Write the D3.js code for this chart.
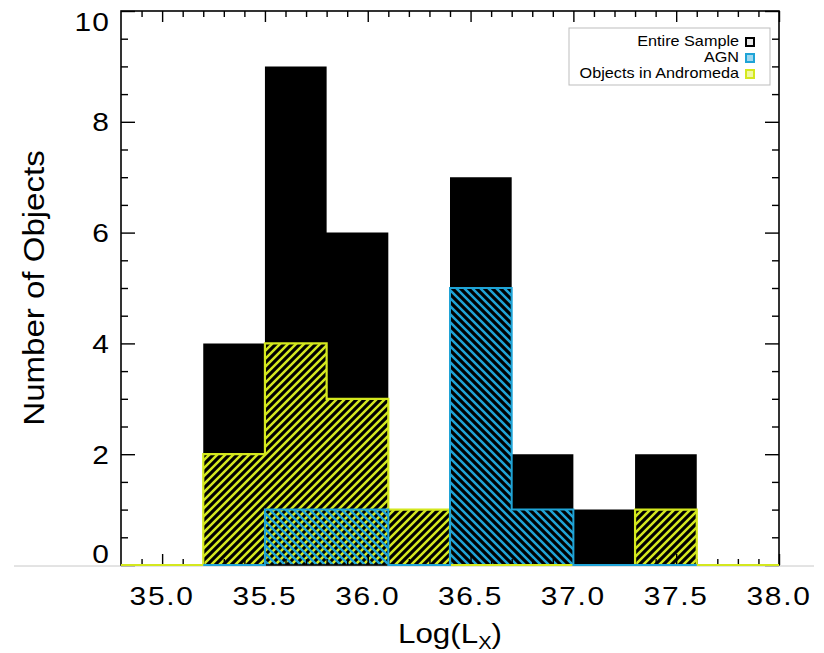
<!DOCTYPE html>
<html><head><meta charset="utf-8">
<script src="https://cdn.jsdelivr.net/npm/d3@7"></script>
<style>
body{margin:0;background:#fff}
text{font-family:"Liberation Sans",Arial,Helvetica,sans-serif;fill:#000;font-weight:400}
</style>
</head><body>
<svg id="c" width="824" height="653"></svg>
<script>
// ---- data ----
const binEdges = [35.2, 35.5, 35.8, 36.1, 36.4, 36.7, 37.0, 37.3, 37.6];
const entireSample = [4, 9, 6, 1, 7, 2, 1, 2];
const agn = [0, 1, 1, 0, 5, 1, 0, 0];
const andromeda = [2, 4, 3, 1, 0, 0, 0, 1];
const xTicks = [35.0, 35.5, 36.0, 36.5, 37.0, 37.5, 38.0];
const yTicks = [0, 2, 4, 6, 8, 10];
const legendLabels = ["Entire Sample", "AGN", "Objects in Andromeda"];
const xDomain = [34.8, 38.0];
const yDomain = [0, 10];

// ---- styles ----
const YELLOW = "#d4e81e", CYAN = "#1fa3d6";
const L = 121, R = 779, T = 11, B = 565;

const svg = d3.select("#c");
const x = d3.scaleLinear().domain(xDomain).range([L, R]);
const y = d3.scaleLinear().domain(yDomain).range([B, T]);

// patterns
const defs = svg.append("defs");
function hatch(id, color, dir) {
  const p = defs.append("pattern").attr("id", id).attr("patternUnits", "userSpaceOnUse")
    .attr("width", 8).attr("height", 8);
  const d = dir > 0 ? "M-2,2 L2,-2 M0,8 L8,0 M6,10 L10,6" : "M-2,6 L2,10 M0,0 L8,8 M6,-2 L10,2";
  p.append("path").attr("d", d).attr("stroke", color).attr("stroke-width", 2.5).attr("fill", "none");
}
hatch("hAnd", YELLOW, 1);
hatch("hAgn", CYAN, -1);

// faint scan line
svg.append("line").attr("x1", 14).attr("x2", 814).attr("y1", B + 1).attr("y2", B + 1)
  .attr("stroke", "#c8c8c8").attr("stroke-width", 1);

function stepData(counts) {
  const pts = counts.map((c, i) => ({ x: binEdges[i], v: c }));
  pts.push({ x: binEdges[binEdges.length - 1], v: counts[counts.length - 1] });
  return pts;
}
const area = d3.area().curve(d3.curveStepAfter).x(d => x(d.x)).y0(y(0)).y1(d => y(d.v));
const line = d3.line().curve(d3.curveStepAfter).x(d => x(d.x)).y(d => y(d.v));

svg.append("path").attr("d", area(stepData(entireSample))).attr("fill", "#000");
svg.append("path").attr("d", area(stepData(andromeda))).attr("fill", "url(#hAnd)");
svg.append("path").attr("d", area(stepData(agn))).attr("fill", "url(#hAgn)");

function outlineData(counts, x0, x1) {
  const pts = [];
  if (x0 !== undefined) pts.push({ x: x0, v: 0 });
  counts.forEach((c, i) => pts.push({ x: binEdges[i], v: c }));
  pts.push({ x: binEdges[binEdges.length - 1], v: 0 });
  if (x1 !== undefined) pts.push({ x: x1, v: 0 });
  return pts;
}

// frame
svg.append("rect").attr("x", L).attr("y", T).attr("width", R - L).attr("height", B - T)
  .attr("fill", "none").attr("stroke", "#000").attr("stroke-width", 1.6);

// ticks
const xMinor = d3.range(349, 380).map(v => v / 10).filter(v => Math.round(v * 10) % 5 !== 0);
const yMinor = d3.range(1, 20).map(v => v / 2).filter(v => v % 2 !== 0);
function ticks(axisGen, tr) {
  const g = svg.append("g").attr("transform", tr).call(axisGen);
  g.select(".domain").remove();
  g.selectAll("text").remove();
  g.selectAll("line").attr("stroke", "#000").attr("stroke-width", 1.4);
}
ticks(d3.axisBottom(x).tickValues(xTicks).tickSize(-11), `translate(0,${B})`);
ticks(d3.axisBottom(x).tickValues(xMinor).tickSize(-6), `translate(0,${B})`);
ticks(d3.axisTop(x).tickValues(xTicks).tickSize(-11), `translate(0,${T})`);
ticks(d3.axisTop(x).tickValues(xMinor).tickSize(-6), `translate(0,${T})`);
ticks(d3.axisLeft(y).tickValues(yTicks).tickSize(-14), `translate(${L},0)`);
ticks(d3.axisLeft(y).tickValues(yMinor).tickSize(-7), `translate(${L},0)`);
ticks(d3.axisRight(y).tickValues(yTicks).tickSize(-14), `translate(${R},0)`);
ticks(d3.axisRight(y).tickValues(yMinor).tickSize(-7), `translate(${R},0)`);

// outlines
svg.append("path").attr("d", line(outlineData(andromeda, xDomain[0], xDomain[1])))
  .attr("fill", "none").attr("stroke", YELLOW).attr("stroke-width", 2.2);
svg.append("path").attr("d", line(outlineData(agn)))
  .attr("fill", "none").attr("stroke", CYAN).attr("stroke-width", 2);

// tick labels
const FS = 26, SX = 1.15;
svg.append("g").selectAll("text").data(xTicks).join("text")
  .attr("transform", d => `translate(${x(d)},605) scale(${SX},1)`)
  .attr("text-anchor", "middle").attr("font-size", FS).attr("letter-spacing", 1.5)
  .text(d => d.toFixed(1));
const cap = FS * 0.716;
svg.append("g").selectAll("text").data(yTicks).join("text")
  .attr("transform", d => {
    const cy = Math.max(T + cap / 2 + 1, Math.min(B - cap / 2 - 2, y(d)));
    return `translate(110,${cy + cap / 2}) scale(${SX},1)`;
  })
  .attr("text-anchor", "end").attr("font-size", FS).attr("letter-spacing", 1)
  .text(d => d);

// axis titles
const xt = svg.append("text").attr("transform", `translate(450,643) scale(1.12,1)`)
  .attr("text-anchor", "middle").attr("font-size", 28);
xt.append("tspan").text("Log(L");
xt.append("tspan").attr("font-size", 18).attr("dy", 6).text("X");
xt.append("tspan").attr("dy", -6).text(")");
svg.append("text").attr("transform", `translate(44,288) rotate(-90) scale(1.14,1)`)
  .attr("text-anchor", "middle").attr("font-size", 29).text("Number of Objects");

// legend
const lg = svg.append("g");
lg.append("rect").attr("x", 569).attr("y", 28).attr("width", 201).attr("height", 57)
  .attr("fill", "#fff").attr("stroke", "#bdbdbd").attr("stroke-width", 1);
const legColors = ["#000", CYAN, YELLOW];
const legFill = ["#e8e8e8", "#9fd8f0", "#f0f8a0"];
legendLabels.forEach((t, i) => {
  lg.append("text").attr("transform", `translate(739,${46 + i * 16}) scale(1.08,1)`)
    .attr("text-anchor", "end").attr("font-size", 15).text(t);
  lg.append("rect").attr("x", 746).attr("y", 38 + i * 16).attr("width", 8).attr("height", 8)
    .attr("fill", legFill[i]).attr("stroke", legColors[i]).attr("stroke-width", 2);
});
</script>
</body></html>
